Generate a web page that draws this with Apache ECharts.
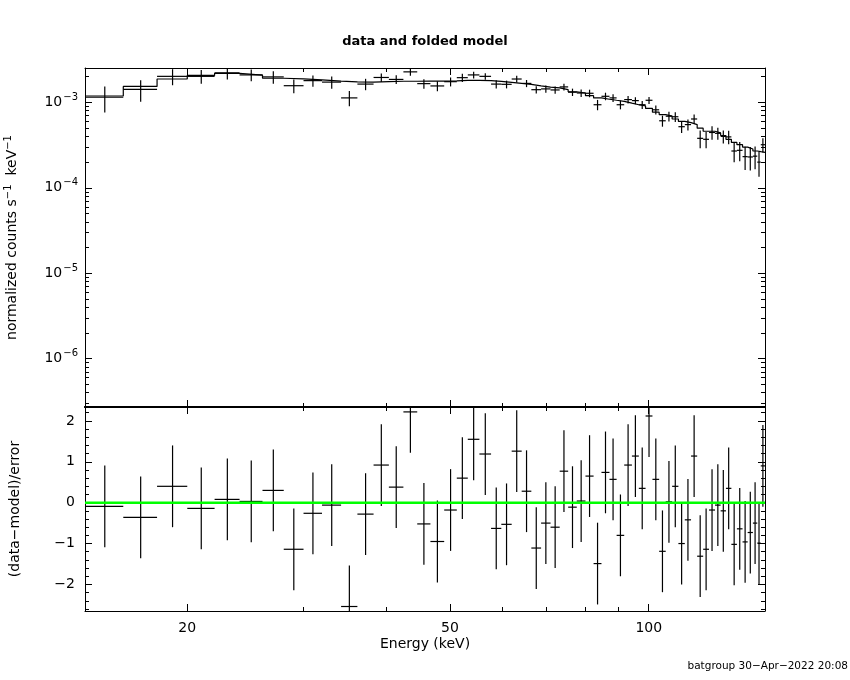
<!DOCTYPE html>
<html>
<head>
<meta charset="utf-8">
<script src="https://cdn.jsdelivr.net/npm/echarts@6/dist/echarts.min.js"></script>
<style>
  html, body { margin: 0; padding: 0; background: #fff; }
  #chart { width: 850px; height: 680px; }
</style>
</head>
<body>
<div id="chart"></div>
<script>
// energy bin edges (keV)
const binEdges = [14, 16, 18, 20, 22, 24, 26, 28, 30, 32,
  34.2, 36.2, 38.3, 40.4, 42.5, 44.6, 46.7, 49, 51.2, 53.2,
  55.4, 57.7, 59.8, 62, 64.2, 66.4, 68.7, 71, 73.3, 75.5,
  77.8, 80.2, 82.5, 84.8, 87.2, 89.4, 91.8, 94.3, 96.6, 98.9,
  101.3, 103.7, 106.1, 108.5, 110.9, 113.4, 115.9, 118.4, 120.9, 123.4,
  126, 128.5, 130.9, 133.4, 136, 138.7, 141.2, 143.8, 146, 147.8, 150];

// normalized counts s^-1 keV^-1
const dataRate = [1.15e-3, 1.42e-3, 2.02e-3, 2.02e-3, 2.22e-3, 2.10e-3, 1.99e-3, 1.57e-3, 1.80e-3, 1.73e-3,
  1.13e-3, 1.64e-3, 1.96e-3, 1.86e-3, 2.28e-3, 1.66e-3, 1.56e-3, 1.75e-3, 1.95e-3, 2.10e-3,
  2.02e-3, 1.64e-3, 1.63e-3, 1.88e-3, 1.67e-3, 1.41e-3, 1.44e-3, 1.40e-3, 1.52e-3, 1.32e-3,
  1.29e-3, 1.28e-3, 0.94e-3, 1.18e-3, 1.13e-3, 0.94e-3, 1.08e-3, 1.05e-3, 0.94e-3, 1.06e-3,
  0.82e-3, 0.61e-3, 0.69e-3, 0.68e-3, 0.52e-3, 0.55e-3, 0.64e-3, 0.38e-3, 0.37e-3, 0.445e-3,
  0.435e-3, 0.40e-3, 0.395e-3, 0.27e-3, 0.275e-3, 0.232e-3, 0.23e-3, 0.235e-3, 0.20e-3, 0.32e-3];

const dataErr = [0.39e-3, 0.40e-3, 0.43e-3, 0.37e-3, 0.36e-3, 0.33e-3, 0.33e-3, 0.29e-3, 0.27e-3, 0.28e-3,
  0.23e-3, 0.25e-3, 0.22e-3, 0.22e-3, 0.23e-3, 0.21e-3, 0.21e-3, 0.21e-3, 0.22e-3, 0.19e-3,
  0.18e-3, 0.18e-3, 0.17e-3, 0.17e-3, 0.16e-3, 0.14e-3, 0.14e-3, 0.14e-3, 0.14e-3, 0.13e-3,
  0.13e-3, 0.13e-3, 0.13e-3, 0.12e-3, 0.12e-3, 0.11e-3, 0.11e-3, 0.10e-3, 0.10e-3, 0.10e-3,
  0.10e-3, 0.09e-3, 0.09e-3, 0.09e-3, 0.08e-3, 0.08e-3, 0.08e-3, 0.09e-3, 0.08e-3, 0.08e-3,
  0.07e-3, 0.07e-3, 0.07e-3, 0.07e-3, 0.07e-3, 0.07e-3, 0.07e-3, 0.07e-3, 0.065e-3, 0.06e-3];

// folded model per bin
const modelRate = [1.19e-3, 1.54e-3, 1.88e-3, 2.07e-3, 2.19e-3, 2.09e-3, 1.92e-3, 1.89e-3, 1.84e-3, 1.78e-3,
  1.74e-3, 1.73e-3, 1.75e-3, 1.77e-3, 1.77e-3, 1.78e-3, 1.78e-3, 1.79e-3, 1.81e-3, 1.81e-3,
  1.80e-3, 1.76e-3, 1.72e-3, 1.67e-3, 1.63e-3, 1.56e-3, 1.51e-3, 1.48e-3, 1.41e-3, 1.33e-3,
  1.29e-3, 1.20e-3, 1.13e-3, 1.09e-3, 1.06e-3, 1.03e-3, 0.98e-3, 0.94e-3, 0.91e-3, 0.85e-3,
  0.77e-3, 0.72e-3, 0.69e-3, 0.64e-3, 0.60e-3, 0.58e-3, 0.55e-3, 0.50e-3, 0.46e-3, 0.46e-3,
  0.44e-3, 0.41e-3, 0.37e-3, 0.34e-3, 0.32e-3, 0.30e-3, 0.285e-3, 0.27e-3, 0.265e-3, 0.26e-3];

// (data-model)/error
const residuals = [-0.09, -0.36, 0.40, -0.14, 0.08, 0.03, 0.30, -1.14, -0.26, -0.06,
  -2.54, -0.28, 0.92, 0.38, 2.22, -0.52, -0.95, -0.18, 0.60, 1.55,
  1.19, -0.63, -0.53, 1.26, 0.28, -1.11, -0.50, -0.60, 0.77, -0.11,
  0.04, 0.65, -1.49, 0.74, 0.57, -0.80, 0.92, 1.14, 0.35, 2.12,
  0.57, -1.19, 0.02, 0.40, -1.00, -0.42, 1.14, -1.31, -1.14, -0.18,
  -0.06, -0.20, 0.35, -1.02, -0.64, -0.96, -0.73, -0.50, -0.99, 0.90];

// ticks
const xMajorTicks = [20, 50, 100];
const xMinorTicks = [20, 30, 40, 50, 60, 70, 80, 90, 100];
const yMajorTicks = [1e-6, 1e-5, 1e-4, 1e-3];
const yMinorTicks = [3e-7, 4e-7, 5e-7, 6e-7, 7e-7, 8e-7, 9e-7,
  2e-6, 3e-6, 4e-6, 5e-6, 6e-6, 7e-6, 8e-6, 9e-6,
  2e-5, 3e-5, 4e-5, 5e-5, 6e-5, 7e-5, 8e-5, 9e-5,
  2e-4, 3e-4, 4e-4, 5e-4, 6e-4, 7e-4, 8e-4, 9e-4, 2e-3];
const rMajorTicks = [-2, -1, 0, 1, 2];
const rMinorTicks = [-2.6, -2.4, -2.2, -2, -1.8, -1.6, -1.4, -1.2, -1, -0.8, -0.6, -0.4, -0.2,
  0, 0.2, 0.4, 0.6, 0.8, 1, 1.2, 1.4, 1.6, 1.8, 2, 2.2];

const X_MIN = 14, X_MAX = 150;
const Y_MIN = 2.72e-7, Y_MAX = 2.53e-3;
const R_MIN = -2.65, R_MAX = 2.34;
const FONT = 'DejaVu Sans';

const spectrumBins = dataRate.map((v, i) => [binEdges[i], binEdges[i + 1], v, dataErr[i]]);
const residualBins = residuals.map((v, i) => [binEdges[i], binEdges[i + 1], v, 1]);
const modelSteps = [];
modelRate.forEach((m, i) => {
  modelSteps.push([binEdges[i], m], [binEdges[i + 1], m]);
});

// crossbar over the bin width, vertical bar for the error
function crossItem(params, api) {
  const lo = api.value(0), hi = api.value(1), y = api.value(2), e = api.value(3);
  const xc = (lo + hi) / 2;
  const cs = params.coordSys;
  const clampY = p => Math.max(cs.y, Math.min(cs.y + cs.height, p));
  const a = api.coord([lo, y]);
  const b = api.coord([hi, y]);
  const t = api.coord([xc, y + e]);
  const d = api.coord([xc, y - e]);
  const style = { stroke: '#000', lineWidth: 1.2 };
  const children = [];
  if (a[1] >= cs.y && a[1] <= cs.y + cs.height) {
    children.push({ type: 'line', shape: { x1: a[0], y1: a[1], x2: Math.min(b[0], cs.x + cs.width), y2: b[1] }, style: style });
  }
  children.push({ type: 'line', shape: { x1: t[0], y1: clampY(t[1]), x2: d[0], y2: clampY(d[1]) }, style: style });
  return { type: 'group', children: children };
}

function xAxis(grid, pos, ticks, len, lineW, labels) {
  const ax = {
    type: 'log', logBase: 10, gridIndex: grid, position: pos, min: X_MIN, max: X_MAX,
    axisLine: { show: lineW > 0, onZero: false, lineStyle: { color: '#000', width: lineW } },
    axisTick: { show: true, inside: true, length: len, customValues: ticks, lineStyle: { color: '#000', width: 1 } },
    axisLabel: { show: false },
    splitLine: { show: false }, minorTick: { show: false }
  };
  if (labels) {
    ax.axisLabel = { show: true, customValues: labels, margin: 10, color: '#000', fontFamily: FONT, fontSize: 14,
      formatter: v => String(Math.round(v)) };
  }
  return ax;
}

function yLogAxis(grid, pos, ticks, len, lineW, labels) {
  const ax = {
    type: 'log', logBase: 10, gridIndex: grid, position: pos, min: Y_MIN, max: Y_MAX,
    axisLine: { show: lineW > 0, onZero: false, lineStyle: { color: '#000', width: lineW } },
    axisTick: { show: true, inside: true, length: len, customValues: ticks, lineStyle: { color: '#000', width: 1 } },
    axisLabel: { show: false },
    splitLine: { show: false }, minorTick: { show: false }
  };
  if (labels) {
    ax.axisLabel = {
      show: true, customValues: labels, margin: 7, color: '#000', fontFamily: FONT,
      formatter: v => '{b|10}{s|' + '\u2212' + Math.round(-Math.log10(v)) + '}',
      rich: {
        b: { fontSize: 14, fontFamily: FONT, color: '#000' },
        s: { fontSize: 10, fontFamily: FONT, color: '#000', padding: [0, 0, 10, 1] }
      }
    };
  }
  return ax;
}

function yResAxis(grid, pos, ticks, len, lineW, labels) {
  const ax = {
    type: 'value', gridIndex: grid, position: pos, min: R_MIN, max: R_MAX,
    axisLine: { show: lineW > 0, onZero: false, lineStyle: { color: '#000', width: lineW } },
    axisTick: { show: true, inside: true, length: len, customValues: ticks, lineStyle: { color: '#000', width: 1 } },
    axisLabel: { show: false },
    splitLine: { show: false }, minorTick: { show: false }
  };
  if (labels) {
    ax.axisLabel = { show: true, customValues: labels, margin: 10, color: '#000', fontFamily: FONT, fontSize: 14,
      formatter: v => String(v).replace('-', '\u2212') };
  }
  return ax;
}

const xAxes = [
  xAxis(0, 'bottom', xMajorTicks, 7, 2, null),
  xAxis(0, 'bottom', xMinorTicks, 4, 0, null),
  xAxis(0, 'top', xMajorTicks, 7, 1, null),
  xAxis(0, 'top', xMinorTicks, 4, 0, null),
  xAxis(1, 'bottom', xMajorTicks, 7, 1, xMajorTicks),
  xAxis(1, 'bottom', xMinorTicks, 4, 0, null),
  xAxis(1, 'top', xMajorTicks, 7, 2, null),
  xAxis(1, 'top', xMinorTicks, 4, 0, null)
];
xAxes[4].name = 'Energy (keV)';
xAxes[4].nameLocation = 'middle';
xAxes[4].nameGap = 26;
xAxes[4].nameTextStyle = { color: '#000', fontFamily: FONT, fontSize: 14 };

const yAxes = [
  yLogAxis(0, 'left', yMajorTicks, 7, 1, yMajorTicks),
  yLogAxis(0, 'left', yMinorTicks, 4, 0, null),
  yLogAxis(0, 'right', yMajorTicks, 7, 1, null),
  yLogAxis(0, 'right', yMinorTicks, 4, 0, null),
  yResAxis(1, 'left', rMajorTicks, 7, 1, rMajorTicks),
  yResAxis(1, 'left', rMinorTicks, 4, 0, null),
  yResAxis(1, 'right', rMajorTicks, 7, 1, null),
  yResAxis(1, 'right', rMinorTicks, 4, 0, null)
];
yAxes[0].name = 'normalized counts s{s|\u22121}  keV{s|\u22121}';
yAxes[0].nameLocation = 'middle';
yAxes[0].nameRotate = 90;
yAxes[0].nameGap = 63;
yAxes[0].nameTextStyle = {
  color: '#000', fontFamily: FONT, fontSize: 14,
  rich: { s: { fontSize: 10, fontFamily: FONT, color: '#000', padding: [0, 0, 9, 0] } }
};
yAxes[4].name = '(data\u2212model)/error';
yAxes[4].nameLocation = 'middle';
yAxes[4].nameRotate = 90;
yAxes[4].nameGap = 63;
yAxes[4].nameTextStyle = { color: '#000', fontFamily: FONT, fontSize: 14 };

const chart = echarts.init(document.getElementById('chart'));
chart.setOption({
  animation: false,
  backgroundColor: '#fff',
  title: {
    text: 'data and folded model',
    left: 'center', top: 30,
    textStyle: { color: '#000', fontFamily: FONT, fontSize: 13, fontWeight: 'bold' }
  },
  grid: [
    { left: 85, right: 85, top: 68, height: 339, outerBoundsMode: 'none' },
    { left: 85, right: 85, top: 407, height: 204, outerBoundsMode: 'none' }
  ],
  xAxis: xAxes,
  yAxis: yAxes,
  graphic: [{
    type: 'text', right: 2, top: 661,
    style: { text: 'batgroup 30\u2212Apr\u22122022 20:08', fill: '#000', font: '10.5px "DejaVu Sans"' }
  }],
  series: [
    {
      type: 'line', xAxisIndex: 0, yAxisIndex: 0, data: modelSteps,
      showSymbol: false, symbol: 'none', lineStyle: { color: '#000', width: 1.2 }, z: 2
    },
    {
      type: 'custom', xAxisIndex: 0, yAxisIndex: 0, data: spectrumBins,
      renderItem: crossItem, z: 3
    },
    {
      type: 'custom', xAxisIndex: 4, yAxisIndex: 4, data: residualBins,
      renderItem: crossItem, z: 3
    },
    {
      type: 'line', xAxisIndex: 4, yAxisIndex: 4, data: [[X_MIN, 0], [X_MAX, 0]],
      showSymbol: false, symbol: 'none', lineStyle: { color: '#00ff00', width: 2.5 }, z: 5
    }
  ]
});
</script>
</body>
</html>
